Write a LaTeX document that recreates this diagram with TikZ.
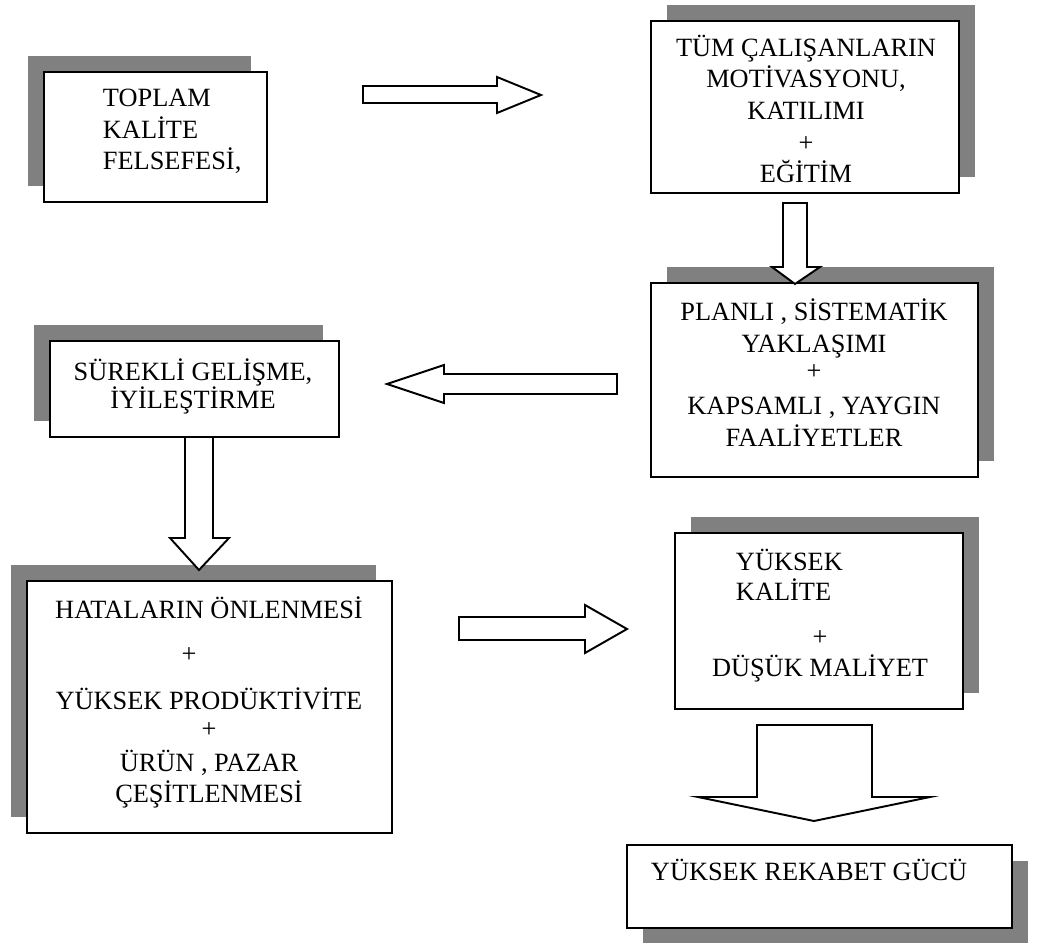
\documentclass[tikz,border=0pt]{standalone}
\usepackage{fontspec}
\setmainfont{Liberation Serif}
\usetikzlibrary{shadows}
\definecolor{shadowgray}{RGB}{128,128,128}

\begin{document}
\begin{tikzpicture}[x=0.02cm, y=-0.02cm, line width=1.1pt,
box/.style={draw,fill=white,inner sep=0pt},
sh tl/.style={drop shadow={shadow xshift=-0.32cm,shadow yshift=0.32cm,fill=shadowgray,opacity=1}},
sh tr/.style={drop shadow={shadow xshift=0.32cm,shadow yshift=0.32cm,fill=shadowgray,opacity=1}},
sh br/.style={drop shadow={shadow xshift=0.32cm,shadow yshift=-0.32cm,fill=shadowgray,opacity=1}},
txt/.style={font=\fontsize{15}{18}\selectfont,inner sep=0pt},
block/.style={draw,fill=white,line join=miter}]
\useasboundingbox (0,0) rectangle (1038,943);
% boxes
\node[box,sh tl,minimum width=4.46cm,minimum height=2.60cm] (toplam) at (155.5,137) {};
\node[box,sh tr,minimum width=6.16cm,minimum height=3.44cm] (calisan) at (805,107) {};
\node[box,sh tr,minimum width=6.54cm,minimum height=3.88cm] (planli) at (814.5,380) {};
\node[box,sh tl,minimum width=5.78cm,minimum height=1.92cm] (surekli) at (194.5,389) {};
\node[box,sh tl,minimum width=7.30cm,minimum height=5.04cm] (hata) at (209.5,707) {};
\node[box,sh tr,minimum width=5.76cm,minimum height=3.52cm] (kalite) at (819,621) {};
\node[box,sh br,minimum width=7.70cm,minimum height=1.66cm] (rekabet) at (819.5,886.5) {};
% texts
\begin{scope}[every node/.style={txt}]
\node[align=left,anchor=west] (toplamtxt) at (102,131.5) {TOPLAM\\KALİTE\\FELSEFESİ,};
\node[align=center] (calisantxt) at (806,109) {TÜM ÇALIŞANLARIN\\MOTİVASYONU,\\KATILIMI\\+\\EĞİTİM};
\node[align=center] (planlitxt) at (814,372.5) {PLANLI , SİSTEMATİK\\YAKLAŞIMI\\[-2.5pt]+\\[2pt]KAPSAMLI , YAYGIN\\FAALİYETLER};
\node[align=center] (surekitxt) at (193,386) {SÜREKLİ GELİŞME,\\[-2pt]İYİLEŞTİRME};
\node[align=center] (hatatxt) at (209,702.5) {HATALARIN ÖNLENMESİ\\[7pt]\hspace*{-0.8cm}+\\[9pt]YÜKSEK PRODÜKTİVİTE\\[-2pt]+\\[1pt]ÜRÜN , PAZAR\\ÇEŞİTLENMESİ};
\node[align=left,anchor=west] (kalitetxt) at (735,574.5) {YÜKSEK\\[-1pt]KALİTE};
\node[align=center] (maliyettxt) at (820,656.5) {+\\DÜŞÜK MALİYET};
\node[anchor=base west] (rekabettxt) at (650,880.5) {YÜKSEK REKABET GÜCÜ};
\end{scope}
% block arrows
\draw[block] (363,86) -- (497,86) -- (497,77) -- (541,95) -- (497,113) -- (497,103) -- (363,103) -- cycle;
\draw[block] (783,203) -- (807,203) -- (807,267) -- (820,267) -- (795,284) -- (772,267) -- (783,267) -- cycle;
\draw[block] (617,374) -- (444,374) -- (444,365) -- (387,384) -- (444,403) -- (444,394) -- (617,394) -- cycle;
\draw[block] (185,437) -- (213,437) -- (213,538) -- (229,538) -- (199,570) -- (170,538) -- (185,538) -- cycle;
\draw[block] (459,617) -- (585,617) -- (585,605) -- (627,629) -- (585,653) -- (585,640) -- (459,640) -- cycle;
\draw[block] (757,725) -- (872,725) -- (872,797) -- (930,797) -- (814,821) -- (698,797) -- (757,797) -- cycle;
\end{tikzpicture}
\end{document}
